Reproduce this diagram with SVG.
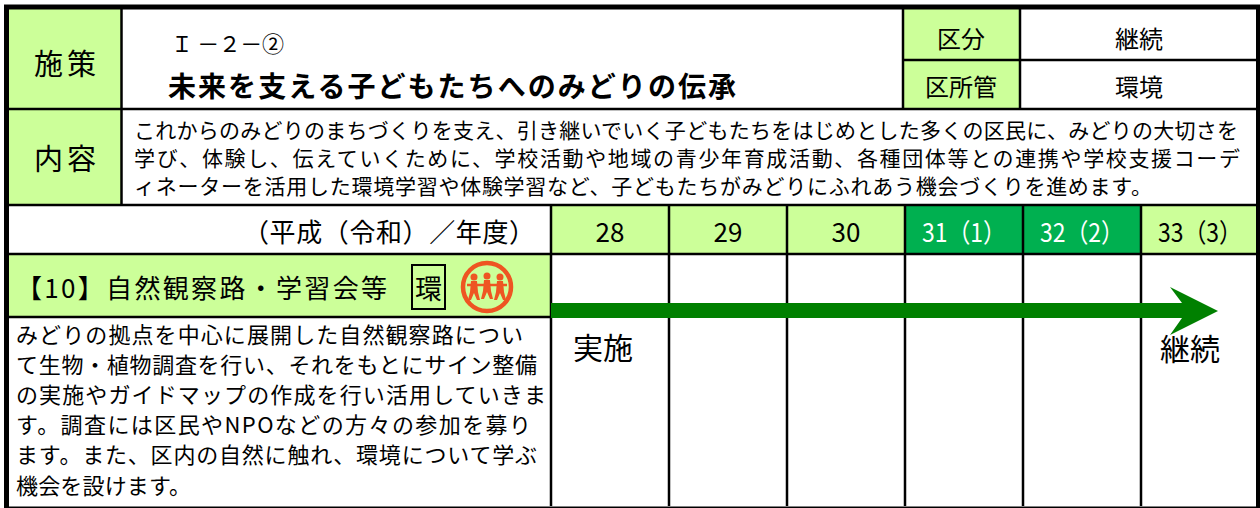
<svg xmlns="http://www.w3.org/2000/svg" width="1260" height="508" viewBox="0 0 1260 508">
<style>
text{font-family:"Noto Sans CJK JP","Noto Sans CJK SC",sans-serif;fill:#000;dominant-baseline:central}
.lg{fill:#CCFF99}
.dg{fill:#00B050}
.ln{stroke:#000;stroke-width:2.5;fill:none}
.c{text-anchor:middle}
.wt{fill:#fff}
.ic{fill:#EE5522}
</style>
<rect x="0" y="0" width="1260" height="508" fill="#fff"/>
<g id="cell-shisaku">
<rect class="lg" x="9" y="9" width="112" height="100"/>
<text class="c" x="65" y="62" font-size="29" textLength="62" lengthAdjust="spacing">施策</text>
</g>
<g id="cell-title">
<text x="171" y="42" font-size="22" textLength="113" lengthAdjust="spacing">Ｉ －２－②</text>
<text x="168" y="85" font-size="28" font-weight="bold" textLength="568" lengthAdjust="spacing">未来を支える子どもたちへのみどりの伝承</text>
</g>
<g id="cell-kubun">
<rect class="lg" x="903" y="9" width="117" height="51"/>
<text class="c" x="961" y="37" font-size="24">区分</text>
<text class="c" x="1139" y="37" font-size="24">継続</text>
</g>
<g id="cell-kushokan">
<rect class="lg" x="903" y="60" width="117" height="49"/>
<text class="c" x="961" y="85" font-size="24">区所管</text>
<text class="c" x="1139" y="85" font-size="24">環境</text>
</g>
<g id="cell-naiyo">
<rect class="lg" x="9" y="109" width="112" height="96"/>
<text class="c" x="65" y="157" font-size="29" textLength="62" lengthAdjust="spacing">内容</text>
<text x="134" y="129" font-size="21" textLength="1104" lengthAdjust="spacing">これからのみどりのまちづくりを支え、引き継いでいく子どもたちをはじめとした多くの区民に、みどりの大切さを</text>
<text x="134" y="157" font-size="21" textLength="1106" lengthAdjust="spacing">学び、体験し、伝えていくために、学校活動や地域の青少年育成活動、各種団体等との連携や学校支援コーデ</text>
<text x="134" y="185" font-size="21" textLength="1018" lengthAdjust="spacing">ィネーターを活用した環境学習や体験学習など、子どもたちがみどりにふれあう機会づくりを進めます。</text>
</g>
<g id="row-years">
<text x="243" y="230" font-size="26" textLength="292" lengthAdjust="spacing">（平成（令和）／年度）</text>
<rect class="lg" x="551" y="205" width="354" height="49"/>
<rect class="dg" x="905" y="205" width="236" height="49"/>
<rect class="lg" x="1141" y="205" width="117" height="49"/>
<text class="c" x="610" y="230" font-size="26">28</text>
<text class="c" x="728" y="230" font-size="26">29</text>
<text class="c" x="846" y="230" font-size="26">30</text>
<text class="c wt" x="964" y="230" font-size="26" textLength="84" lengthAdjust="spacingAndGlyphs">31（1）</text>
<text class="c wt" x="1082" y="230" font-size="26" textLength="84" lengthAdjust="spacingAndGlyphs">32（2）</text>
<text class="c" x="1200" y="230" font-size="26" textLength="84" lengthAdjust="spacingAndGlyphs">33（3）</text>
</g>
<g id="item-10">
<rect class="lg" x="9" y="254" width="542" height="63"/>
<text x="16" y="286" font-size="26" textLength="371" lengthAdjust="spacing">【10】自然観察路・学習会等</text>
<rect x="412" y="265" width="33" height="44" fill="none" stroke="#000" stroke-width="2"/>
<text class="c" x="428.5" y="287" font-size="27">環</text>
</g>
<g id="icon-people">
<circle cx="487" cy="287" r="24" fill="none" stroke="#EE5522" stroke-width="4.5"/>
<line x1="467" y1="285" x2="507" y2="285" stroke="#EE5522" stroke-width="2.5"/>
<circle class="ic" cx="474" cy="277" r="3.5"/>
<circle class="ic" cx="487" cy="276" r="3.5"/>
<circle class="ic" cx="500" cy="277" r="3.5"/>
<path class="ic" d="M471,281h6l1,11l2,8h-3l-3,-7l-3,7h-3l2,-8z"/>
<path class="ic" d="M484,280h6l1,11l2,8h-3l-3,-7l-3,7h-3l2,-8z"/>
<path class="ic" d="M497,281h6l1,11l2,8h-3l-3,-7l-3,7h-3l2,-8z"/>
</g>
<g id="item-10-desc">
<text x="16" y="333" font-size="22" textLength="507" lengthAdjust="spacing">みどりの拠点を中心に展開した自然観察路につい</text>
<text x="16" y="363" font-size="22" textLength="521" lengthAdjust="spacing">て生物・植物調査を行い、それをもとにサイン整備</text>
<text x="16" y="393" font-size="22" textLength="530" lengthAdjust="spacing">の実施やガイドマップの作成を行い活用していきま</text>
<text x="16" y="423" font-size="22" textLength="515" lengthAdjust="spacing">す。調査には区民やNPOなどの方々の参加を募り</text>
<text x="16" y="453" font-size="22" textLength="521" lengthAdjust="spacing">ます。また、区内の自然に触れ、環境について学ぶ</text>
<text x="16" y="484" font-size="22" textLength="175" lengthAdjust="spacing">機会を設けます。</text>
</g>
<g id="schedule-labels">
<text class="c" x="603" y="346" font-size="30">実施</text>
<text class="c" x="1190" y="347" font-size="30">継続</text>
</g>
<g id="grid">
<line class="ln" x1="9" y1="109" x2="1258" y2="109"/>
<line class="ln" x1="903" y1="60" x2="1258" y2="60"/>
<line class="ln" x1="9" y1="205" x2="1258" y2="205"/>
<line class="ln" x1="9" y1="254" x2="1258" y2="254"/>
<line class="ln" x1="9" y1="317" x2="551" y2="317"/>
<line class="ln" x1="121.5" y1="9" x2="121.5" y2="205"/>
<line class="ln" x1="903" y1="9" x2="903" y2="109"/>
<line class="ln" x1="1020" y1="9" x2="1020" y2="109"/>
<line class="ln" x1="551" y1="205" x2="551" y2="506"/>
<line class="ln" x1="669" y1="205" x2="669" y2="506"/>
<line class="ln" x1="787" y1="205" x2="787" y2="506"/>
<line class="ln" x1="905" y1="205" x2="905" y2="506"/>
<line class="ln" x1="1023" y1="205" x2="1023" y2="506"/>
<line class="ln" x1="1141" y1="205" x2="1141" y2="506"/>
<rect x="6.5" y="7" width="1252" height="502" fill="none" stroke="#000" stroke-width="5"/>
</g>
<g id="connectors">
<polygon points="551,303 1182,303 1170,287 1218,311 1170,335 1182,318 551,318" fill="#008000"/>
</g>
</svg>
